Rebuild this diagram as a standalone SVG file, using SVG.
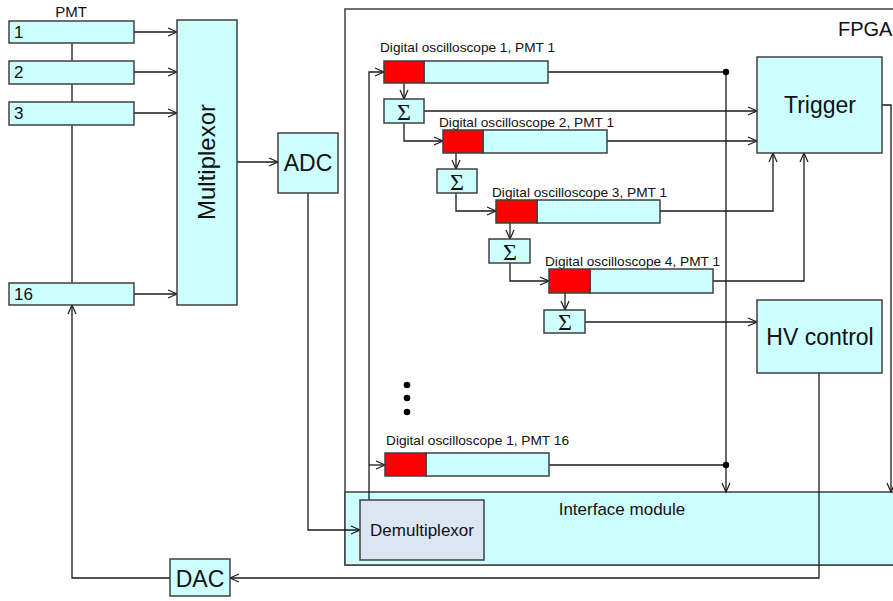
<svg xmlns="http://www.w3.org/2000/svg" width="893" height="601" viewBox="0 0 893 601">
<style>
.box{fill:#ccffff;stroke:#404040;stroke-width:1.5}
.red{fill:#ff0000;stroke:#404040;stroke-width:1.5}
.demux{fill:#dce6f2;stroke:#404040;stroke-width:1.5}
.frame{fill:none;stroke:#404040;stroke-width:1.5}
.ln{fill:none;stroke:#1a1a1a;stroke-width:1.3}
.arr{marker-end:url(#ah)}
text{font-family:"Liberation Sans",Arial,sans-serif;fill:#111}
.lbl{font-size:13px}
.big{font-size:23px}
.mid{font-size:17px}
.sig{font-family:"Liberation Serif","Times New Roman",serif;font-size:24px}
</style>
<defs>
<marker id="ah" markerWidth="12" markerHeight="10" refX="10" refY="5" orient="auto" markerUnits="userSpaceOnUse">
<path d="M1,1 L10,5 L1,9" fill="none" stroke="#1a1a1a" stroke-width="1.2"/>
</marker>
</defs>

<!-- FPGA frame -->
<g id="fpga">
<rect x="345" y="9" width="560" height="556" class="frame"/>
<text x="838" y="36" style="font-size:20px">FPGA</text>
</g>

<g id="interface">
<rect x="345" y="492" width="560" height="73" class="box"/>
<text x="622" y="515" class="mid" text-anchor="middle">Interface module</text>
</g>

<g id="connectors">
<line x1="72" y1="43" x2="72" y2="283" class="ln"/>
<line x1="134" y1="32" x2="177" y2="32" class="ln arr"/>
<line x1="134" y1="72" x2="177" y2="72" class="ln arr"/>
<line x1="134" y1="113" x2="177" y2="113" class="ln arr"/>
<line x1="134" y1="294" x2="177" y2="294" class="ln arr"/>
<line x1="237" y1="162" x2="278" y2="162" class="ln arr"/>
<polyline points="308,193 308,530 360,530" class="ln arr"/>
<polyline points="369,500 369,72 384,72" class="ln arr"/>
<line x1="369" y1="465" x2="385" y2="465" class="ln arr"/>
<polyline points="548,72 726,72 726,492" class="ln arr"/>
<line x1="549" y1="465" x2="726" y2="465" class="ln"/>
<line x1="404" y1="83" x2="404" y2="99" class="ln arr"/>
<line x1="424" y1="111" x2="757" y2="111" class="ln arr"/>
<polyline points="404,123 404,141 443,141" class="ln arr"/>
<line x1="607" y1="141" x2="757" y2="141" class="ln arr"/>
<line x1="456" y1="153" x2="456" y2="169" class="ln arr"/>
<polyline points="456,193 456,211 496,211" class="ln arr"/>
<polyline points="660,211 773,211 773,153" class="ln arr"/>
<line x1="510" y1="223" x2="510" y2="239" class="ln arr"/>
<polyline points="510,263 510,281 549,281" class="ln arr"/>
<polyline points="713,281 804,281 804,153" class="ln arr"/>
<line x1="565" y1="293" x2="565" y2="310" class="ln arr"/>
<line x1="585" y1="322" x2="757" y2="322" class="ln arr"/>
<polyline points="882,105 891,105 891,492" class="ln arr"/>
<polyline points="819,373 819,578 230,578" class="ln arr"/>
<polyline points="170,578 72,578 72,305" class="ln arr"/>
<circle cx="726" cy="72" r="3.2" fill="#000"/>
<circle cx="726" cy="465" r="3.2" fill="#000"/>
</g>

<g id="pmt">
<text x="71" y="17" style="font-size:15px" text-anchor="middle">PMT</text>
</g>
<g id="pmt1"><rect x="9" y="21" width="125" height="22" class="box"/><text x="14" y="38" class="mid">1</text></g>
<g id="pmt2"><rect x="9" y="61" width="125" height="23" class="box"/><text x="14" y="78" class="mid">2</text></g>
<g id="pmt3"><rect x="9" y="102" width="125" height="23" class="box"/><text x="14" y="119" class="mid">3</text></g>
<g id="pmt16"><rect x="9" y="283" width="125" height="22" class="box"/><text x="14" y="300" class="mid">16</text></g>

<g id="multiplexor">
<rect x="177" y="20" width="60" height="285" class="box"/>
<text transform="translate(215,162) rotate(-90)" class="big" text-anchor="middle" style="font-size:24px">Multiplexor</text>
</g>

<g id="adc">
<rect x="278" y="133" width="60" height="60" class="box"/>
<text x="308" y="171" class="big" text-anchor="middle">ADC</text>
</g>

<g id="dac">
<rect x="170" y="559" width="60" height="37" class="box"/>
<text x="200" y="587" class="big" text-anchor="middle">DAC</text>
</g>

<g id="demultiplexor">
<rect x="360" y="500" width="124" height="60" class="demux"/>
<text x="422" y="536" class="mid" text-anchor="middle">Demultiplexor</text>
</g>

<g id="osc1">
<text x="380" y="52" class="lbl" textLength="175" lengthAdjust="spacingAndGlyphs">Digital oscilloscope 1, PMT 1</text>
<rect x="424" y="61" width="124" height="22" class="box"/>
<rect x="384" y="61" width="40" height="22" class="red"/>
</g>
<g id="sum1"><rect x="384" y="99" width="40" height="24" class="box"/><text x="404" y="120" class="sig" text-anchor="middle">Σ</text></g>

<g id="osc2">
<text x="439" y="127" class="lbl" textLength="175" lengthAdjust="spacingAndGlyphs">Digital oscilloscope 2, PMT 1</text>
<rect x="483" y="130" width="124" height="23" class="box"/>
<rect x="443" y="130" width="40" height="23" class="red"/>
</g>
<g id="sum2"><rect x="437" y="169" width="40" height="24" class="box"/><text x="457" y="190" class="sig" text-anchor="middle">Σ</text></g>

<g id="osc3">
<text x="492" y="197" class="lbl" textLength="175" lengthAdjust="spacingAndGlyphs">Digital oscilloscope 3, PMT 1</text>
<rect x="537" y="200" width="123" height="23" class="box"/>
<rect x="496" y="200" width="41" height="23" class="red"/>
</g>
<g id="sum3"><rect x="489" y="239" width="41" height="24" class="box"/><text x="510" y="260" class="sig" text-anchor="middle">Σ</text></g>

<g id="osc4">
<text x="545" y="266" class="lbl" textLength="175" lengthAdjust="spacingAndGlyphs">Digital oscilloscope 4, PMT 1</text>
<rect x="590" y="269" width="123" height="24" class="box"/>
<rect x="549" y="269" width="41" height="24" class="red"/>
</g>
<g id="sum4"><rect x="544" y="310" width="41" height="23" class="box"/><text x="565" y="330" class="sig" text-anchor="middle">Σ</text></g>

<g id="ellipsis">
<circle cx="407" cy="385" r="3.3" fill="#000"/>
<circle cx="407" cy="398" r="3.3" fill="#000"/>
<circle cx="407" cy="412" r="3.3" fill="#000"/>
</g>

<g id="osc16">
<text x="386" y="445" class="lbl" textLength="183" lengthAdjust="spacingAndGlyphs">Digital oscilloscope 1, PMT 16</text>
<rect x="426" y="453" width="123" height="23" class="box"/>
<rect x="385" y="453" width="41" height="23" class="red"/>
</g>

<g id="trigger">
<rect x="757" y="57" width="125" height="96" class="box"/>
<text x="820" y="113" class="big" text-anchor="middle">Trigger</text>
</g>

<g id="hv">
<rect x="757" y="300" width="125" height="73" class="box"/>
<text x="820" y="345" class="big" text-anchor="middle">HV control</text>
</g>
</svg>
